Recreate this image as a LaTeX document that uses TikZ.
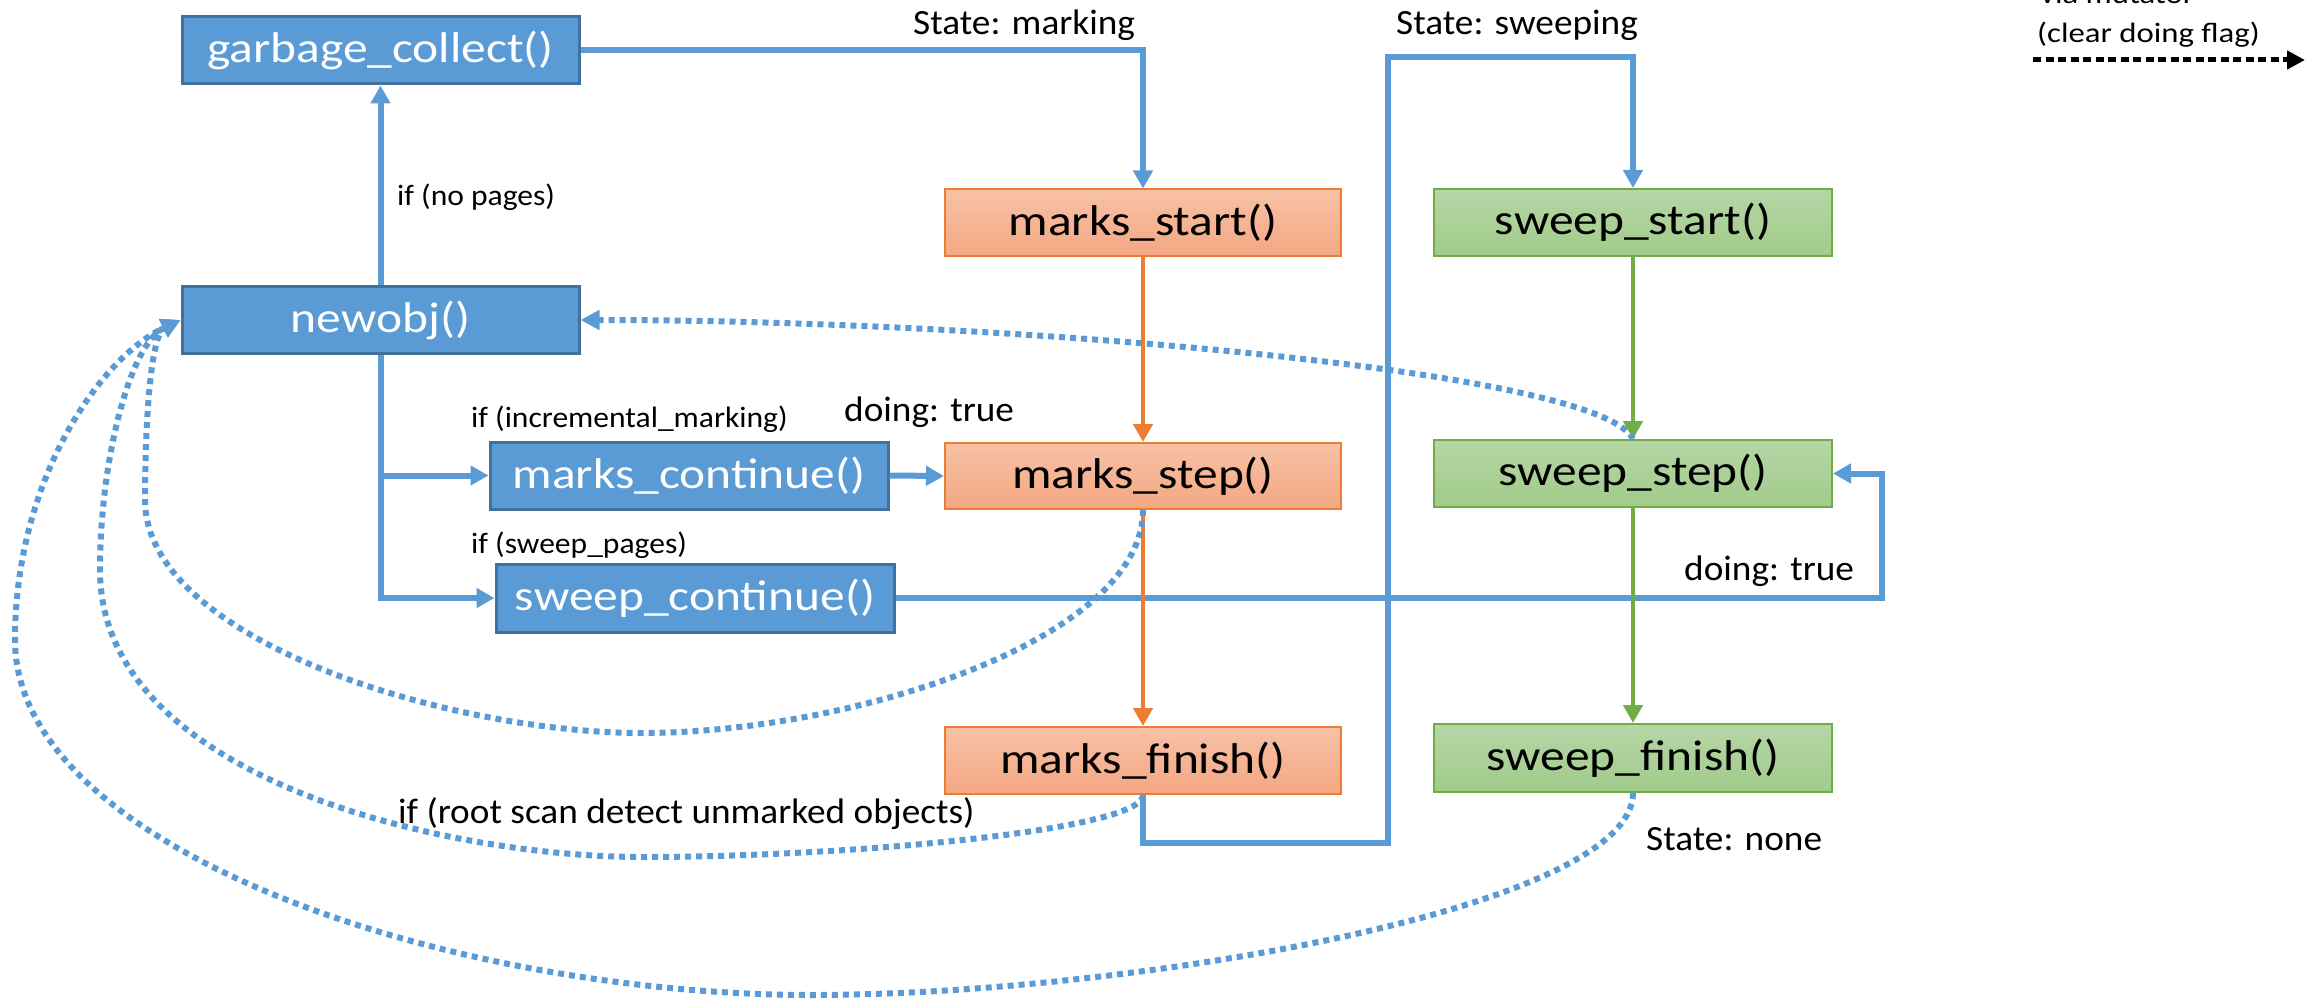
\documentclass[tikz,border=0pt]{standalone}
\usepackage{fontspec}
\setmainfont{Carlito}
\newfontfamily\fnode{Carlito}[FakeStretch=1.15]
\newfontfamily\fstate{Carlito}[FakeStretch=1.05]
\newfontfamily\fif{Carlito}[FakeStretch=1.07]
\newfontfamily\flegend{Carlito}[FakeStretch=1.17]
\usetikzlibrary{arrows.meta}
\definecolor{bfill}{RGB}{91,155,213}
\definecolor{bborder}{RGB}{65,113,156}
\definecolor{oline}{RGB}{237,125,49}
\definecolor{otop}{RGB}{247,193,166}
\definecolor{obot}{RGB}{244,167,130}
\definecolor{gline}{RGB}{112,173,71}
\definecolor{gtop}{RGB}{182,214,166}
\definecolor{gbot}{RGB}{160,203,138}
\begin{document}
\begin{tikzpicture}[x=1pt,y=-1pt,
  box/.style={rectangle, inner sep=0pt, minimum width=397pt, minimum height=67pt,
    font=\fnode\fontsize{43}{50}\selectfont},
  bluebox/.style={box, fill=bfill, draw=bborder, line width=3pt, text=white},
  orangebox/.style={box, draw=oline, line width=2pt, top color=otop, bottom color=obot},
  greenbox/.style={box, draw=gline, line width=2pt, top color=gtop, bottom color=gbot},
  tip/.style={-{Triangle[width=19pt,length=18pt]}},
  blueline/.style={draw=bfill, line width=6pt, miter limit=10},
  bluearrow/.style={blueline, tip},
  orangearrow/.style={draw=oline, line width=4.5pt, tip},
  greenarrow/.style={draw=gline, line width=4.5pt, tip},
  dotline/.style={draw=bfill, line width=6pt, dash pattern=on 6pt off 5pt,
    -{Triangle[width=19pt,length=19pt]}},
  statelbl/.style={anchor=base west, inner sep=0pt, font=\fstate\fontsize{35.5}{42}\selectfont},
  iflbl/.style={anchor=base west, inner sep=0pt, font=\fif\fontsize{29.5}{35}\selectfont},
  leglbl/.style={anchor=base west, inner sep=0pt, font=\flegend\fontsize{28}{33}\selectfont}
]
\useasboundingbox (0,0) rectangle (2323,1000);

% boxes
\node[bluebox] (gc) at (380.5,50.5) {garbage\_collect()};
\node[bluebox] (newobj) at (380.5,320) {newobj()};
\node[bluebox, minimum width=398pt] (mcont) at (689,475.5) {marks\_continue()};
\node[bluebox, minimum width=398pt, minimum height=68pt] (scont) at (695,598) {sweep\_continue()};
\node[orangebox, minimum width=396pt] (mstart) at (1143,223) {marks\_start()};
\node[orangebox, minimum width=396pt, minimum height=66pt] (mstep) at (1143,476) {marks\_step()};
\node[orangebox, minimum width=396pt] (mfin) at (1143,760.5) {marks\_finish()};
\node[greenbox, minimum width=398pt] (sstart) at (1633,222.5) {sweep\_start()};
\node[greenbox, minimum width=398pt] (sstep) at (1633,473.5) {sweep\_step()};
\node[greenbox, minimum width=398pt, minimum height=68pt] (sfin) at (1633,758) {sweep\_finish()};

% waypoints
\coordinate (gcR) at (1143,50.5);
\coordinate (lowR) at (1388,843);
\coordinate (topR) at (1388,57);
\coordinate (loopR) at (1882,598);
\coordinate (brM) at (380.5,475.5);

% blue orthogonal connectors
\draw[bluearrow] (gc.east) -- (gcR) -- (mstart.north);
\draw[bluearrow] (newobj.north) -- (gc.south);
\draw[blueline] (newobj.south) -- (brM);
\draw[bluearrow] (brM) |- (scont.west);
\draw[bluearrow] (brM) -- (mcont.west);
\draw[bluearrow] (mcont.east) -- (mstep.west);
\draw[bluearrow] (scont.east) -- (loopR) |- (sstep.east);
\draw[bluearrow] (mfin.south) |- (lowR) -- (topR) -| (sstart.north);

% orange / green
\draw[orangearrow] (mstart.south) -- (mstep.north);
\draw[orangearrow] (mstep.south) -- (mfin.north);
\draw[greenarrow] (sstart.south) -- (sstep.north);
\draw[greenarrow] (sstep.south) -- (sfin.north);

% dotted returns to newobj
\draw[dotline] (sstep.north) .. controls (1600,370) and (1000,320) .. (newobj.east);
\coordinate (i1) at (642,733);
\coordinate (i2) at (145,500);
\draw[dotline] (mstep.south) .. controls (1143,640) and (850,733) .. (i1)
  .. controls (450,733) and (145,640) .. (i2)
  .. controls (145,430) and (150,335) .. (newobj.west);
\coordinate (m1) at (642,857);
\coordinate (m2) at (100,570);
\draw[dotline] (mfin.south) .. controls (1143,830) and (850,857) .. (m1)
  .. controls (450,857) and (100,780) .. (m2)
  .. controls (100,460) and (130,344) .. (newobj.west);
\coordinate (o1) at (812,995);
\coordinate (o2) at (15,640);
\draw[dotline] (sfin.south) .. controls (1633,910) and (1120,995) .. (o1)
  .. controls (450,995) and (15,850) .. (o2)
  .. controls (15,480) and (100,358) .. (newobj.west);

% labels
\node[statelbl] (lmark) at (913,35) {State: marking};
\node[statelbl] (lsweep) at (1396,35) {State: sweeping};
\node[statelbl] (ldo1) at (844,421) {doing: true};
\node[statelbl] (ldo2) at (1684,580) {doing: true};
\node[statelbl] (lnone) at (1646,850) {State: none};
\node[iflbl] (lnop) at (397,206) {if (no pages)};
\node[iflbl] (linc) at (471,427) {if (incremental\_marking)};
\node[iflbl] (lswp) at (471,553) {if (sweep\_pages)};
\node[statelbl] (lroot) at (398,823) {if (root scan detect unmarked objects)};

% legend
\node[leglbl] (lg1) at (2040,4) {via mutator};
\node[leglbl] (lg2) at (2037,43) {(clear doing flag)};
\coordinate (lgA) at (2033,60);
\coordinate (lgB) at (2305,60);
\draw[black, line width=5pt, dash pattern=on 8pt off 4.5pt, -{Triangle[width=18pt,length=18pt]}] (lgA) -- (lgB);
\end{tikzpicture}
\end{document}
